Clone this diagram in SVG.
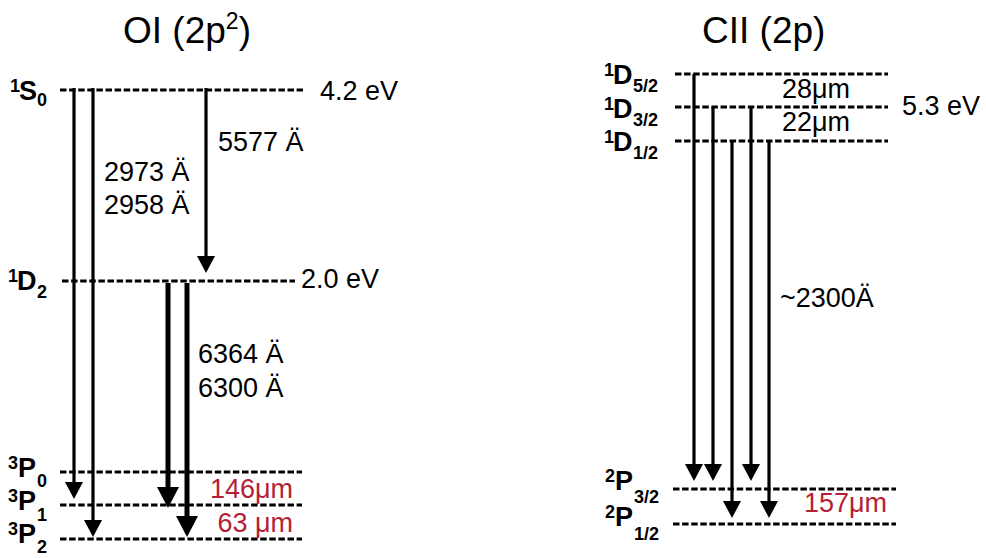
<svg xmlns="http://www.w3.org/2000/svg" width="986" height="558" viewBox="0 0 986 558">
<style>
.lvl{stroke:#000;stroke-width:3;stroke-dasharray:6.5 2.6;fill:none}
.ar{stroke:#000;stroke-width:3.2;fill:none;marker-end:url(#h)}
.ark{stroke:#000;stroke-width:5;fill:none;marker-end:url(#hk)}
text{font-family:"Liberation Sans",Arial,Helvetica,sans-serif;fill:#000}
.t{font-size:27px}
.ti{font-size:37px}
.lb{font-size:27px;font-weight:bold}
.s{font-size:18px;font-weight:bold}
.red{fill:#b41f37}
</style>
<defs>
<marker id="h" markerUnits="userSpaceOnUse" viewBox="0 0 17 18" markerWidth="17" markerHeight="18" refX="7" refY="9" orient="auto"><path d="M0,0 L17,9 L0,18 z" fill="#000"/></marker>
<marker id="hk" markerUnits="userSpaceOnUse" viewBox="0 0 21 22" markerWidth="21" markerHeight="22" refX="11" refY="11" orient="auto"><path d="M0,0 L21,11 L0,22 z" fill="#000"/></marker>
</defs>
<rect width="986" height="558" fill="#fff"/>

<g id="title-oi"><text class="ti" x="123" y="43">OI (2p<tspan font-size="23" dy="-14">2</tspan><tspan dy="14">)</tspan></text></g>
<g id="title-cii"><text class="ti" x="702" y="43">CII (2p)</text></g>

<!-- OI levels -->
<g id="oi-1S0">
<line class="lvl" x1="60" y1="90" x2="303" y2="90"/>
<text class="s" x="10" y="92">1</text><text class="lb" x="19" y="100">S</text><text class="s" x="37" y="106">0</text>
<text class="t" x="320" y="100">4.2 eV</text>
</g>
<g id="oi-1D2">
<line class="lvl" x1="62" y1="281" x2="295" y2="281"/>
<text class="s" x="8" y="282">1</text><text class="lb" x="17" y="290">D</text><text class="s" x="37" y="298">2</text>
<text class="t" x="301" y="288">2.0 eV</text>
</g>
<g id="oi-3P0">
<line class="lvl" x1="60" y1="472" x2="302" y2="472"/>
<text class="s" x="8" y="469">3</text><text class="lb" x="18" y="477">P</text><text class="s" x="37" y="487">0</text>
</g>
<g id="oi-3P1">
<line class="lvl" x1="60" y1="505" x2="302" y2="505"/>
<text class="s" x="8" y="502">3</text><text class="lb" x="18" y="510">P</text><text class="s" x="37" y="521">1</text>
</g>
<g id="oi-3P2">
<line class="lvl" x1="60" y1="539" x2="302" y2="539"/>
<text class="s" x="8" y="535">3</text><text class="lb" x="18" y="543">P</text><text class="s" x="37" y="553">2</text>
</g>

<!-- CII levels -->
<g id="cii-1D52">
<line class="lvl" x1="675" y1="74" x2="888" y2="74"/>
<text class="s" x="604" y="76">1</text><text class="lb" x="613" y="84">D</text><text class="s" x="633" y="92">5/2</text>
</g>
<g id="cii-1D32">
<line class="lvl" x1="675" y1="107" x2="888" y2="107"/>
<text class="s" x="604" y="110">1</text><text class="lb" x="613" y="118">D</text><text class="s" x="633" y="126">3/2</text>
<text class="t" x="902" y="115">5.3 eV</text>
</g>
<g id="cii-1D12">
<line class="lvl" x1="675" y1="141" x2="888" y2="141"/>
<text class="s" x="604" y="143">1</text><text class="lb" x="613" y="151">D</text><text class="s" x="633" y="159">1/2</text>
</g>
<g id="cii-2P32">
<line class="lvl" x1="673" y1="489" x2="896" y2="489"/>
<text class="s" x="605" y="482">2</text><text class="lb" x="615" y="490">P</text><text class="s" x="634" y="503">3/2</text>
</g>
<g id="cii-2P12">
<line class="lvl" x1="673" y1="524" x2="896" y2="524"/>
<text class="s" x="605" y="518">2</text><text class="lb" x="615" y="526">P</text><text class="s" x="634" y="540">1/2</text>
</g>

<g id="connectors">
<line class="ar" x1="74" y1="88" x2="74" y2="489"/>
<line class="ar" x1="93" y1="88" x2="93" y2="527"/>
<line class="ar" x1="206" y1="88" x2="206" y2="263"/>
<line class="ark" x1="168" y1="283" x2="168" y2="498"/>
<line class="ark" x1="187" y1="283" x2="187" y2="527"/>
<line class="ar" x1="694" y1="74" x2="694" y2="471"/>
<line class="ar" x1="713" y1="107" x2="713" y2="471"/>
<line class="ar" x1="732" y1="141" x2="732" y2="508"/>
<line class="ar" x1="751" y1="107" x2="751" y2="471"/>
<line class="ar" x1="769" y1="141" x2="769" y2="508"/>
</g>

<g id="labels">
<text class="t" x="218" y="151">5577 Ä</text>
<text class="t" x="104" y="181">2973 Ä</text>
<text class="t" x="104" y="214">2958 Ä</text>
<text class="t" x="198" y="363">6364 Ä</text>
<text class="t" x="198" y="397">6300 Ä</text>
<text class="t red" x="293" y="498" text-anchor="end">146μm</text>
<text class="t red" x="293" y="532" text-anchor="end">63 μm</text>
<text class="t" x="850" y="98" text-anchor="end">28μm</text>
<text class="t" x="850" y="131" text-anchor="end">22μm</text>
<text class="t" x="780" y="307">~2300Ä</text>
<text class="t red" x="887" y="512" text-anchor="end">157μm</text>
</g>
</svg>
